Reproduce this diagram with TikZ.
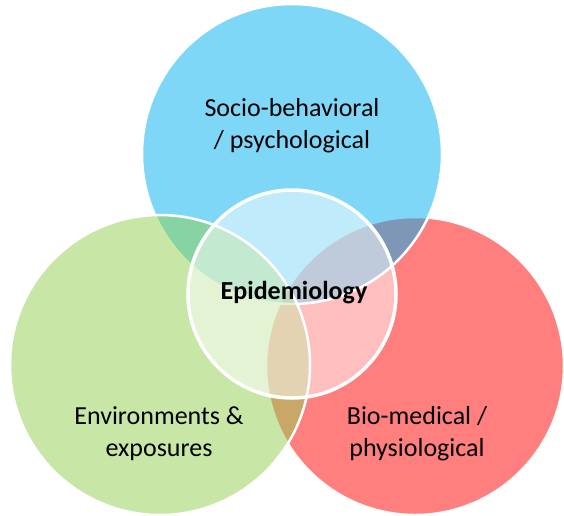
\documentclass[tikz,border=0pt]{standalone}
\usepackage{fontspec}
\setmainfont{Carlito}
\definecolor{cred}{RGB}{255,0,0}
\definecolor{cblue}{RGB}{0,176,240}
\definecolor{cgreen}{RGB}{146,208,80}
\begin{document}
\begin{tikzpicture}[x=1pt,y=-1pt,
  setc/.style={draw=white,line width=2.5pt,fill opacity=0.5},
  lbl/.style={font=\fontsize{26}{32}\selectfont,align=center,text=black,inner sep=0pt}]
\useasboundingbox (0,0) rectangle (564,515);
\fill[white] (0,0) rectangle (564,515);
\path[setc,fill=cred] (415,366) circle[radius=149];
\path[setc,fill=cblue] (292,154) circle[radius=150];
\path[setc,fill=cgreen] (160,365) circle[radius=150];
\path[draw=white,line width=3.5pt,fill=white,fill opacity=0.5] (292,294) circle[radius=104];
\node[lbl] (socio) at (292,125.5) {Socio-behavioral\\/ psychological};
\node[lbl] (env) at (159,433.5) {Environments \&\\exposures};
\node[lbl] (bio) at (417,433.5) {Bio-medical /\\physiological};
\node[lbl,font=\fontsize{26}{32}\selectfont\bfseries] (epi) at (294,293) {Epidemiology};
\end{tikzpicture}
\end{document}
